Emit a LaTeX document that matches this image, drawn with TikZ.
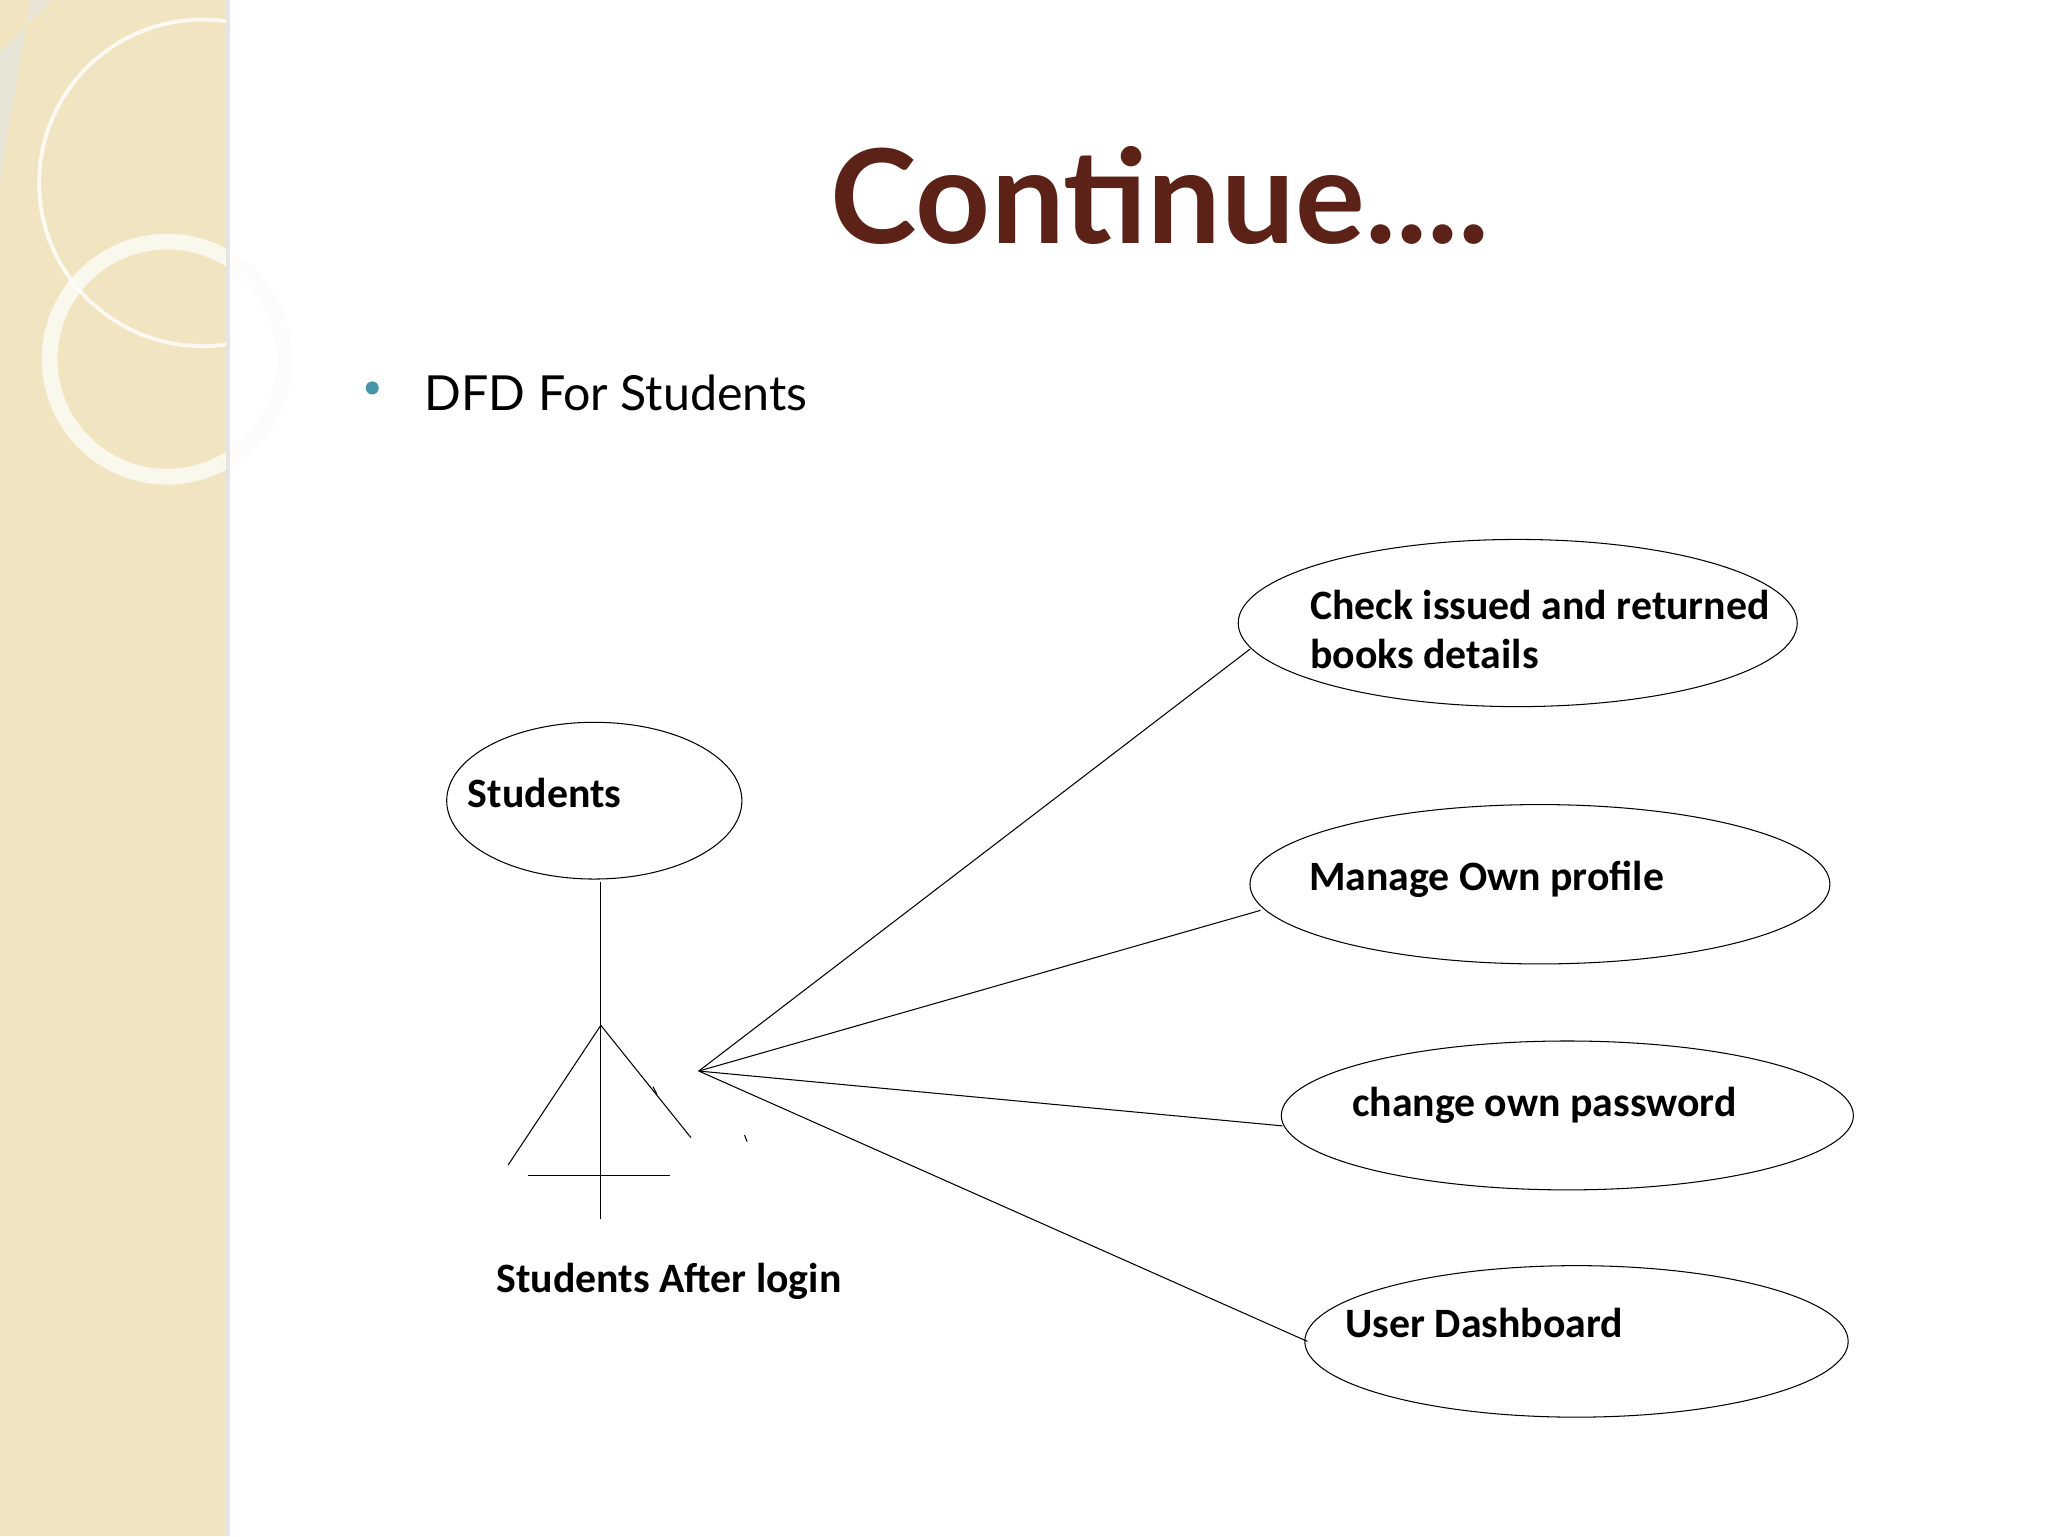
\documentclass[tikz,border=0pt]{standalone}
\usepackage{fontspec}
\setmainfont{Carlito}
\newfontfamily\titlefont{Lato}
\usetikzlibrary{shapes.geometric}
\definecolor{beige}{RGB}{240,229,192}
\definecolor{titlebrown}{RGB}{92,34,24}
\definecolor{teal}{RGB}{70,150,170}
\tikzset{proc/.style={draw,ellipse,line width=0.8pt,inner sep=0pt},
  lbl/.style={anchor=west,font=\fontsize{32}{38}\selectfont\bfseries,align=left,inner sep=0pt},
  wire/.style={line width=0.8pt}}
\begin{document}
\begin{tikzpicture}[x=1pt,y=-1pt]
\useasboundingbox (0,0) rectangle (1568,1176);
\fill[white] (0,0) rectangle (1568,1176);
\fill[beige] (0,0) rectangle (173,1176);
\fill[gray!20,opacity=0.6] (40,0) -- (140,0) arc[start angle=0,end angle=-90,radius=100] -- (0,140) -- (0,40) -- cycle;
\draw[white,line width=3pt,opacity=0.8] (155,140) circle[radius=125];
\draw[white!90!beige,line width=12pt,opacity=0.8] (128,275) circle[radius=90];
\fill[black!10] (173,0) rectangle (176,1176);
\node[font=\titlefont\fontsize{100}{110}\selectfont\bfseries,text=titlebrown] (title) at (888,150) {Continue....};
\fill[teal] (285,297) circle[radius=5];
\node[anchor=west,font=\titlefont\fontsize{37}{44}\selectfont,inner sep=0pt] (sub) at (325,301) {DFD For Students};
\node[proc,minimum width=428,minimum height=128] (e1) at (1162,477) {};
\node[proc,minimum width=226,minimum height=120] (st) at (455,613) {};
\node[proc,minimum width=444,minimum height=122] (e2) at (1179,677) {};
\node[proc,minimum width=438,minimum height=114] (e3) at (1200,854) {};
\node[proc,minimum width=416,minimum height=116] (e4) at (1207,1027) {};
\node[lbl] (t1) at (1003,482) {Check issued and returned\\books details};
\node[lbl] (t2) at (358,607) {Students};
\node[lbl] (t3) at (1002,673) {Manage Own profile};
\node[lbl] (t4) at (1035,846) {change own password};
\node[lbl] (t5) at (1030,1013) {User Dashboard};
\node[lbl] (t6) at (380,981) {Students After login};
\coordinate (top) at (460,675);
\coordinate (bot) at (460,933);
\coordinate (hip) at (460,785);
\coordinate (lf) at (389,892);
\coordinate (rf) at (529,871);
\coordinate (hl) at (404,900);
\coordinate (hr) at (513,900);
\coordinate (hub) at (535,820);
\draw[wire] (top) -- (bot);
\draw[wire] (lf) -- (hip) -- (rf);
\draw[wire] (hl) -- (hr);
\draw[wire] (500,832) -- (503,838);
\draw[wire] (570,869) -- (572,874);
\draw[wire] (hub) -- (957,497);
\draw[wire] (hub) -- (965,697);
\draw[wire] (hub) -- (982,862);
\draw[wire] (hub) -- (1001,1027);
\end{tikzpicture}
\end{document}
